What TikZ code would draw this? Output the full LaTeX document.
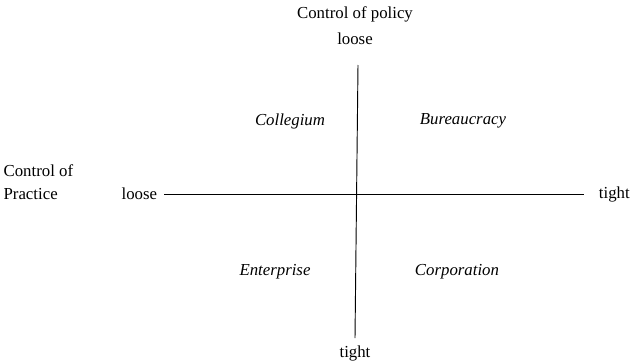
\documentclass[tikz,border=0pt,12pt]{standalone}
\usepackage{fontspec}
\setmainfont{Liberation Serif}
\usetikzlibrary{positioning}

\begin{document}
\begin{tikzpicture}[x=0.75pt, y=-0.75pt,
    every node/.style={font=\fontsize{12.6}{17}\selectfont},
    axis/.style={line width=0.7pt},
    label/.style={inner sep=1pt},
    quad/.style={inner sep=1pt, font=\fontsize{12.6}{17}\selectfont\itshape}]
    \useasboundingbox (0,0) rectangle (639,364);
    %% axes
    \coordinate (vtop) at (358,65);
    \coordinate (vbot) at (355,338);
    \coordinate (hleft) at (164,194);
    \coordinate (hright) at (584,194);
    \draw[axis] (vtop) -- (vbot);
    \draw[axis] (hleft) -- (hright);
    %% axis labels
    \node[label] (policy) at (355,14) {Control of policy};
    \node[label, below=6pt of policy] (ptop) {loose};
    \node[label] (pbot) at (355,353) {tight};
    \node[label, left=4pt of hleft] (pleft) {loose};
    \node[label, right=10pt of hright] (pright) {tight};
    \node[label, align=left, anchor=west] (practice) at (2,182) {Control of\\Practice};
    %% quadrants
    \node[quad] (coll) at (290,121) {Collegium};
    \node[quad] (bur) at (463,121) {Bureaucracy};
    \node[quad] (ent) at (275,272) {Enterprise};
    \node[quad] (corp) at (457,272) {Corporation};
\end{tikzpicture}
\end{document}
